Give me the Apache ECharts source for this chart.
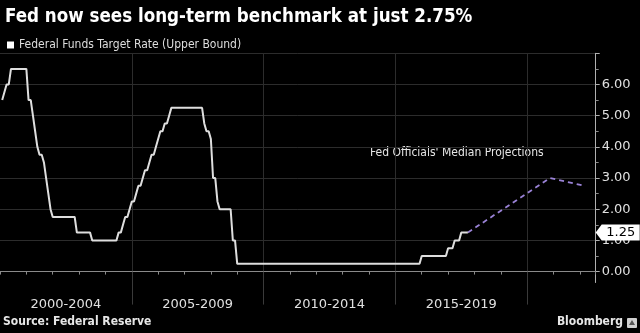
<!DOCTYPE html>
<html>
<head>
<meta charset="utf-8">
<script src="https://cdn.jsdelivr.net/npm/echarts@6/dist/echarts.min.js"></script>
<style>
  html, body { margin: 0; padding: 0; background: #000; }
  #chart { width: 640px; height: 333px; }
</style>
</head>
<body>
<div id="chart"></div>
<script>
// ---- data ----
const startYear = 2000; // first monthly value = end of Jan 2000
const fedRate = [
  // 2000
  5.50, 5.75, 6.00, 6.00, 6.50, 6.50, 6.50, 6.50, 6.50, 6.50, 6.50, 6.50,
  // 2001
  5.50, 5.50, 5.00, 4.50, 4.00, 3.75, 3.75, 3.50, 3.00, 2.50, 2.00, 1.75,
  // 2002
  1.75, 1.75, 1.75, 1.75, 1.75, 1.75, 1.75, 1.75, 1.75, 1.75, 1.25, 1.25,
  // 2003
  1.25, 1.25, 1.25, 1.25, 1.25, 1.00, 1.00, 1.00, 1.00, 1.00, 1.00, 1.00,
  // 2004
  1.00, 1.00, 1.00, 1.00, 1.00, 1.25, 1.25, 1.50, 1.75, 1.75, 2.00, 2.25,
  // 2005
  2.25, 2.50, 2.75, 2.75, 3.00, 3.25, 3.25, 3.50, 3.75, 3.75, 4.00, 4.25,
  // 2006
  4.50, 4.50, 4.75, 4.75, 5.00, 5.25, 5.25, 5.25, 5.25, 5.25, 5.25, 5.25,
  // 2007
  5.25, 5.25, 5.25, 5.25, 5.25, 5.25, 5.25, 5.25, 4.75, 4.50, 4.50, 4.25,
  // 2008
  3.00, 3.00, 2.25, 2.00, 2.00, 2.00, 2.00, 2.00, 2.00, 1.00, 1.00, 0.25,
  // 2009
  0.25, 0.25, 0.25, 0.25, 0.25, 0.25, 0.25, 0.25, 0.25, 0.25, 0.25, 0.25,
  // 2010
  0.25, 0.25, 0.25, 0.25, 0.25, 0.25, 0.25, 0.25, 0.25, 0.25, 0.25, 0.25,
  // 2011
  0.25, 0.25, 0.25, 0.25, 0.25, 0.25, 0.25, 0.25, 0.25, 0.25, 0.25, 0.25,
  // 2012
  0.25, 0.25, 0.25, 0.25, 0.25, 0.25, 0.25, 0.25, 0.25, 0.25, 0.25, 0.25,
  // 2013
  0.25, 0.25, 0.25, 0.25, 0.25, 0.25, 0.25, 0.25, 0.25, 0.25, 0.25, 0.25,
  // 2014
  0.25, 0.25, 0.25, 0.25, 0.25, 0.25, 0.25, 0.25, 0.25, 0.25, 0.25, 0.25,
  // 2015
  0.25, 0.25, 0.25, 0.25, 0.25, 0.25, 0.25, 0.25, 0.25, 0.25, 0.25, 0.50,
  // 2016
  0.50, 0.50, 0.50, 0.50, 0.50, 0.50, 0.50, 0.50, 0.50, 0.50, 0.50, 0.75,
  // 2017 (Jan-Sep)
  0.75, 0.75, 1.00, 1.00, 1.00, 1.25, 1.25, 1.25, 1.25
];
const projYears = [2017.75, 2020.86, 2022.18];
const projRates = [1.25, 3.00, 2.75];
const currentRate = 1.25;

const periodLabels  = ['2000-2004', '2005-2009', '2010-2014', '2015-2019'];
const periodCenters = [2002.5, 2007.5, 2012.5, 2017.5];
const periodBreaks  = [2005, 2010, 2015, 2020];
const yLabelValues  = [0, 1, 2, 3, 4, 5, 6];
const yMajorTicks   = [0, 1, 2, 3, 4, 5, 6, 7];
const yMinorTicks   = [0.5, 1.5, 2.5, 3.5, 4.5, 5.5, 6.5];

const titleText  = 'Fed now sees long-term benchmark at just 2.75%';
const seriesName = 'Federal Funds Target Rate (Upper Bound)';
const projName   = "Fed Officials' Median Projections";

// ---- chart ----
const FC = '"DejaVu Sans Condensed", "DejaVu Sans", sans-serif';
const FR = '"DejaVu Sans", sans-serif';
const X_MIN = 2000, X_MAX = 2022.6, Y_MIN = -0.35, Y_MAX = 7;

const mainData = fedRate.map((v, i) => [startYear + (i + 1) / 12, v]);
const projData = projYears.map((x, i) => [x, projRates[i]]);

const chart = echarts.init(document.getElementById('chart'), null, { renderer: 'canvas' });
chart.setOption({
  backgroundColor: '#000',
  animation: false,
  title: {
    text: titleText,
    left: 0, top: 3,
    textStyle: { color: '#fff', fontSize: 18.6, fontWeight: 'bold', fontFamily: FC }
  },
  legend: {
    data: [seriesName],
    left: 2, top: 34,
    icon: 'rect', itemWidth: 7, itemHeight: 7,
    textStyle: { color: '#ddd', fontSize: 12, fontFamily: FC },
    selectedMode: false
  },
  grid: { left: -2, right: 44.3, top: 53.3, bottom: 50.5, containLabel: false },
  xAxis: [
    {
      type: 'value', min: X_MIN, max: X_MAX, interval: 1,
      axisLine: { show: true, lineStyle: { color: '#8a8a8a', width: 1 } },
      axisTick: { show: true, length: 3, lineStyle: { color: '#8a8a8a' } },
      axisLabel: { show: false },
      splitLine: { show: false }
    },
    {
      type: 'value', min: X_MIN, max: X_MAX, position: 'bottom', offset: 0,
      axisLine: { show: false },
      axisTick: { show: true, customValues: periodBreaks, length: 33, lineStyle: { color: '#3a3a3a' } },
      axisLabel: {
        show: true, customValues: periodCenters, margin: 16,
        color: '#e0e0e0', fontSize: 13, fontFamily: FR,
        formatter: (v) => { const i = periodCenters.indexOf(v); return i >= 0 ? periodLabels[i] : ''; }
      },
      splitLine: { show: true, lineStyle: { color: '#2c2c2c', width: 1 } }
    }
  ],
  yAxis: [
    {
      type: 'value', position: 'right', offset: 0, min: Y_MIN, max: Y_MAX,
      axisLine: { show: true, lineStyle: { color: '#b0b0b0', width: 1 } },
      axisTick: { show: true, customValues: yMajorTicks, length: 4, lineStyle: { color: '#b0b0b0' } },
      axisLabel: {
        show: true, customValues: yLabelValues, margin: 6,
        color: '#e0e0e0', fontSize: 13, fontFamily: FR,
        formatter: (v) => v.toFixed(2)
      },
      splitLine: { show: true, lineStyle: { color: '#2c2c2c', width: 1 } }
    },
    {
      type: 'value', position: 'right', offset: 0, min: Y_MIN, max: Y_MAX,
      axisLine: { show: false },
      axisTick: { show: true, customValues: yMinorTicks, length: 3, lineStyle: { color: '#8a8a8a' } },
      axisLabel: { show: false },
      splitLine: { show: false }
    }
  ],
  series: [
    {
      name: seriesName, type: 'line', data: mainData,
      xAxisIndex: 0, yAxisIndex: 0,
      showSymbol: false, symbol: 'none',
      itemStyle: { color: '#ffffff' },
      lineStyle: { color: '#dedede', width: 2 },
      z: 3,
      markPoint: {
        symbol: 'path://M0,8 L6,0 L44,0 L44,16 L6,16 Z',
        symbolSize: [44, 16],
        symbolOffset: [22, 0],
        itemStyle: { color: '#ffffff' },
        label: {
          show: true, position: 'inside', offset: [3, 0],
          color: '#000', fontSize: 13, fontFamily: FR,
          formatter: (p) => p.value.toFixed(2)
        },
        data: [{ coord: [X_MAX, currentRate], value: currentRate }],
        z: 10
      }
    },
    {
      name: projName, type: 'line', data: projData,
      xAxisIndex: 0, yAxisIndex: 0,
      showSymbol: false, symbol: 'none',
      lineStyle: { color: '#9a82d6', width: 1.8, type: [5, 4] },
      z: 2
    }
  ],
  graphic: [
    {
      type: 'text', left: 370, top: 147,
      style: { text: projName, fill: '#e6e6e6', fontSize: 12, fontFamily: FC }
    },
    {
      type: 'text', left: 3, top: 316,
      style: { text: 'Source: Federal Reserve', fill: '#e6e6e6', fontSize: 12, fontWeight: 'bold', fontFamily: FC }
    },
    {
      type: 'text', right: 17, top: 316,
      style: { text: 'Bloomberg', fill: '#e6e6e6', fontSize: 12, fontWeight: 'bold', fontFamily: FC }
    },
    {
      type: 'group', right: 3, top: 318,
      children: [
        { type: 'rect', shape: { x: 0, y: 0, width: 10, height: 10, r: 1 }, style: { fill: '#cfcfcf' } },
        { type: 'polygon', shape: { points: [[2, 7], [5, 2], [8, 7]] }, style: { fill: '#555' } }
      ]
    }
  ]
});
</script>
</body>
</html>
